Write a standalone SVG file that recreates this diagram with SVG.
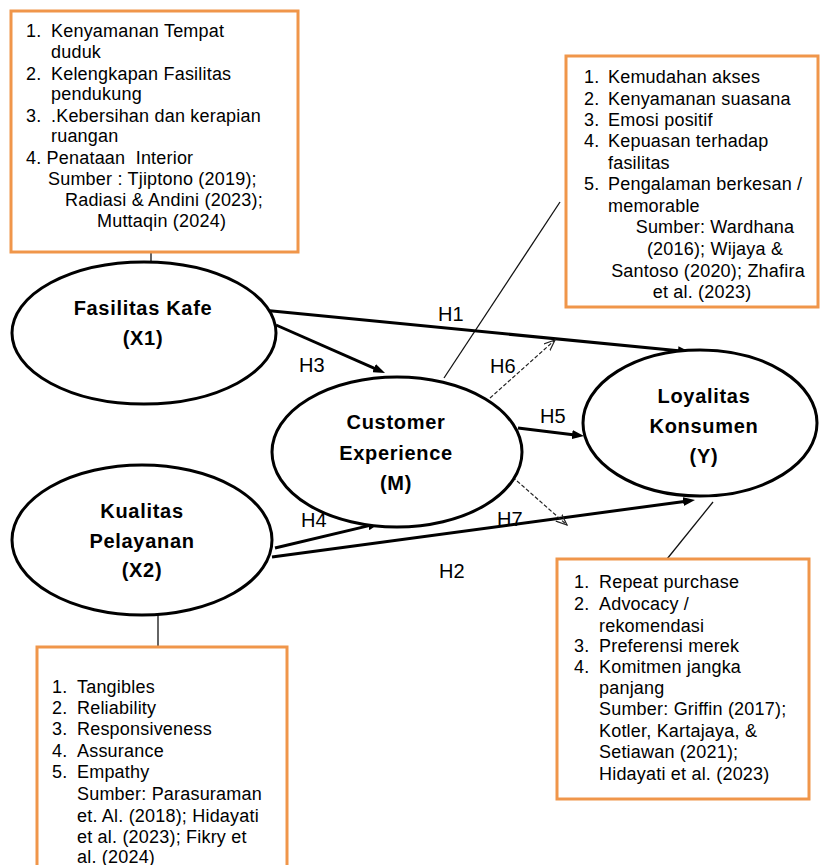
<svg xmlns="http://www.w3.org/2000/svg" width="820" height="865" viewBox="0 0 820 865">
<defs>
<style>
text{font-family:"Liberation Sans",Arial,Helvetica,sans-serif;fill:#000}
.box{fill:#fff;stroke:#F0964A;stroke-width:3}
.li{font-size:18px;letter-spacing:0.2px}
.lab{font-size:20px;font-weight:bold;letter-spacing:0.7px;text-anchor:middle}
.ell{fill:#fff;stroke:#000;stroke-width:3}
.h{font-size:20px}
.arr{stroke:#000;stroke-width:3;fill:none;marker-end:url(#ah)}
.dash{stroke:#222;stroke-width:1.2;fill:none;stroke-dasharray:4 2;marker-end:url(#oh)}
.thin{stroke:#111;stroke-width:1.3;fill:none}
</style>
<marker id="ah" viewBox="0 0 12 9" refX="3" refY="4.5" markerWidth="12" markerHeight="9" markerUnits="userSpaceOnUse" orient="auto"><path d="M0,0 L12,4.5 L0,9 z" fill="#000"/></marker>
<marker id="oh" viewBox="0 0 12 10" refX="11" refY="5" markerWidth="12" markerHeight="10" markerUnits="userSpaceOnUse" orient="auto"><path d="M0,0.5 L11,5 L0,9.5" fill="none" stroke="#222" stroke-width="1.2"/></marker>
</defs>
<rect width="820" height="865" fill="#fff"/>

<g id="connectors">
<line class="thin" x1="151" y1="252" x2="151" y2="262"/>
<line class="thin" x1="444" y1="378" x2="560" y2="202"/>
<line class="thin" x1="713" y1="502" x2="667" y2="559"/>
<line class="thin" x1="158" y1="615" x2="158" y2="647"/>
<line class="arr" x1="262" y1="310" x2="681" y2="351.1"/>
<line class="arr" x1="276" y1="325" x2="376.8" y2="369.4"/>
<line class="arr" x1="518" y1="428" x2="575.1" y2="434.9"/>
<line class="arr" x1="275" y1="548" x2="371.2" y2="525.1"/>
<line class="arr" x1="272" y1="557" x2="686.1" y2="501.2"/>
<line class="dash" x1="490" y1="398" x2="555" y2="340"/>
<line class="dash" x1="508" y1="473" x2="567" y2="525"/>
<text class="h" x="438" y="321">H1</text>
<text class="h" x="299" y="372">H3</text>
<text class="h" x="490" y="373">H6</text>
<text class="h" x="540" y="423">H5</text>
<text class="h" x="301" y="527">H4</text>
<text class="h" x="497" y="526">H7</text>
<text class="h" x="439" y="578">H2</text>
</g>

<g id="box-x1">
<rect class="box" x="11" y="11" width="287" height="241"/>
<text class="li" x="26" y="37">1.</text><text class="li" x="51" y="37">Kenyamanan Tempat</text>
<text class="li" x="51" y="58">duduk</text>
<text class="li" x="26" y="80">2.</text><text class="li" x="51" y="80">Kelengkapan Fasilitas</text>
<text class="li" x="51" y="100">pendukung</text>
<text class="li" x="26" y="122">3.</text><text class="li" x="51" y="122">.Kebersihan dan kerapian</text>
<text class="li" x="51" y="142">ruangan</text>
<text class="li" x="26" y="164" xml:space="preserve">4. Penataan  Interior</text>
<text class="li" x="48" y="185">Sumber : Tjiptono (2019);</text>
<text class="li" x="65" y="206">Radiasi &amp; Andini (2023);</text>
<text class="li" x="97" y="227">Muttaqin (2024)</text>
</g>

<g id="box-m">
<rect class="box" x="566" y="56" width="252" height="251"/>
<text class="li" x="584" y="83">1.</text><text class="li" x="608" y="83">Kemudahan akses</text>
<text class="li" x="584" y="105">2.</text><text class="li" x="608" y="105">Kenyamanan suasana</text>
<text class="li" x="584" y="126">3.</text><text class="li" x="608" y="126">Emosi positif</text>
<text class="li" x="584" y="147">4.</text><text class="li" x="608" y="147">Kepuasan terhadap</text>
<text class="li" x="608" y="169">fasilitas</text>
<text class="li" x="584" y="190">5.</text><text class="li" x="608" y="190">Pengalaman berkesan /</text>
<text class="li" x="608" y="212">memorable</text>
<text class="li" x="715" y="233" text-anchor="middle">Sumber: Wardhana</text>
<text class="li" x="715" y="255" text-anchor="middle">(2016); Wijaya &amp;</text>
<text class="li" x="708" y="277" text-anchor="middle">Santoso (2020); Zhafira</text>
<text class="li" x="702" y="298" text-anchor="middle">et al. (2023)</text>
</g>

<g id="box-y">
<rect class="box" x="557" y="559" width="252" height="240"/>
<text class="li" x="574" y="588">1.</text><text class="li" x="599" y="588">Repeat purchase</text>
<text class="li" x="574" y="610">2.</text><text class="li" x="599" y="610">Advocacy /</text>
<text class="li" x="599" y="632">rekomendasi</text>
<text class="li" x="574" y="652">3.</text><text class="li" x="599" y="652">Preferensi merek</text>
<text class="li" x="574" y="673">4.</text><text class="li" x="599" y="673">Komitmen jangka</text>
<text class="li" x="599" y="694">panjang</text>
<text class="li" x="599" y="715">Sumber: Griffin (2017);</text>
<text class="li" x="599" y="737">Kotler, Kartajaya, &amp;</text>
<text class="li" x="599" y="758">Setiawan (2021);</text>
<text class="li" x="599" y="780">Hidayati et al. (2023)</text>
</g>

<g id="box-x2">
<rect class="box" x="37" y="647" width="250" height="240"/>
<text class="li" x="52" y="693">1.</text><text class="li" x="77" y="693">Tangibles</text>
<text class="li" x="52" y="714">2.</text><text class="li" x="77" y="714">Reliability</text>
<text class="li" x="52" y="735">3.</text><text class="li" x="77" y="735">Responsiveness</text>
<text class="li" x="52" y="757">4.</text><text class="li" x="77" y="757">Assurance</text>
<text class="li" x="52" y="778">5.</text><text class="li" x="77" y="778">Empathy</text>
<text class="li" x="77" y="800">Sumber: Parasuraman</text>
<text class="li" x="77" y="822">et. Al. (2018); Hidayati</text>
<text class="li" x="77" y="843">et al. (2023); Fikry et</text>
<text class="li" x="77" y="863">al. (2024)</text>
</g>

<g id="node-x1">
<ellipse class="ell" cx="144" cy="333" rx="132" ry="71"/>
<text class="lab" x="143" y="315">Fasilitas Kafe</text>
<text class="lab" x="143" y="345">(X1)</text>
</g>

<g id="node-x2">
<ellipse class="ell" cx="142" cy="540" rx="130" ry="75"/>
<text class="lab" x="142" y="518">Kualitas</text>
<text class="lab" x="142" y="548">Pelayanan</text>
<text class="lab" x="142" y="577">(X2)</text>
</g>

<g id="node-m">
<ellipse class="ell" cx="397" cy="452" rx="125" ry="75"/>
<text class="lab" x="396" y="429">Customer</text>
<text class="lab" x="396" y="460">Experience</text>
<text class="lab" x="396" y="490">(M)</text>
</g>

<g id="node-y">
<ellipse class="ell" cx="700" cy="423" rx="117" ry="73"/>
<text class="lab" x="704" y="403">Loyalitas</text>
<text class="lab" x="704" y="433">Konsumen</text>
<text class="lab" x="704" y="463">(Y)</text>
</g>
</svg>
